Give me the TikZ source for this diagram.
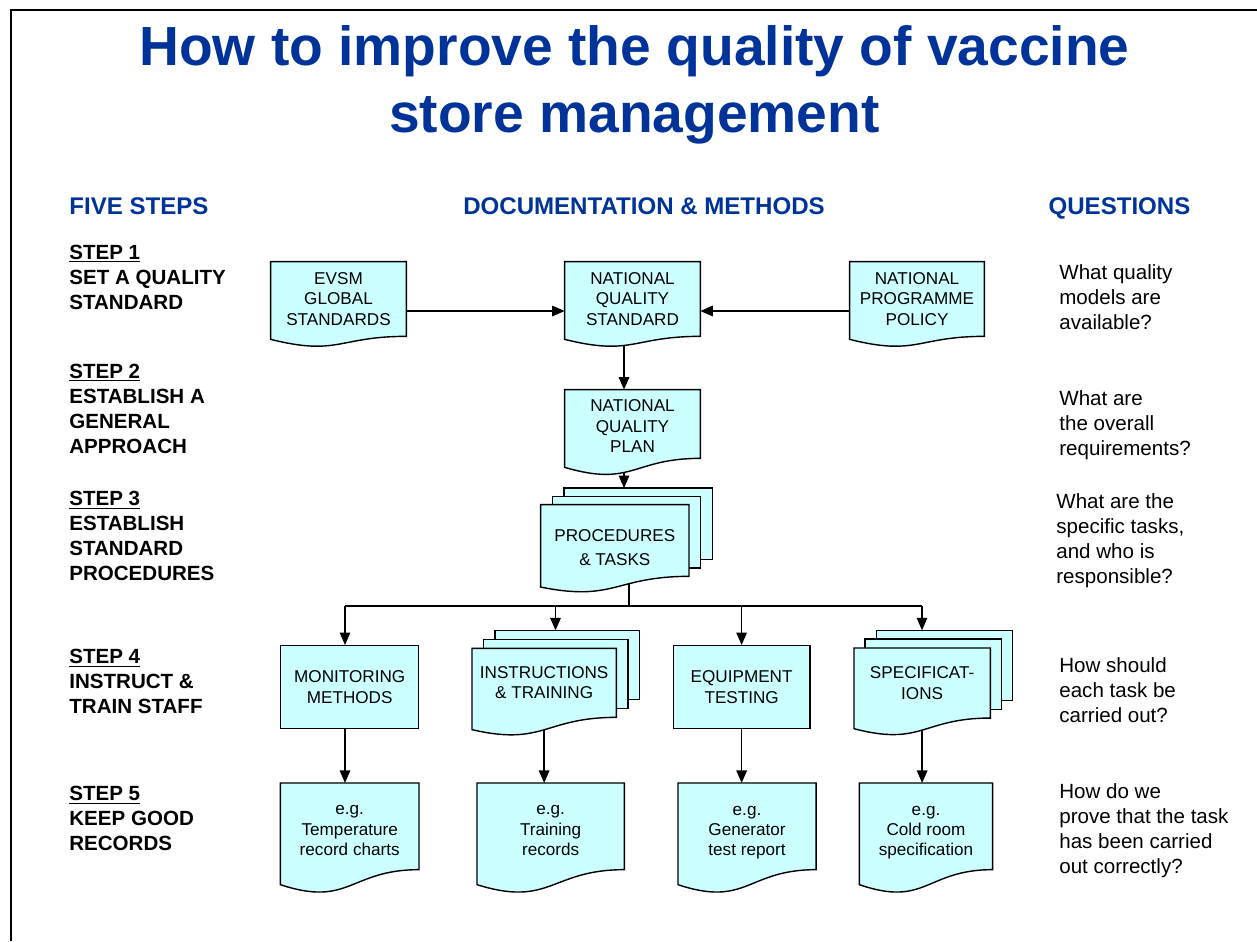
\documentclass[tikz,border=0pt]{standalone}
\usepackage{fontspec}
\setmainfont{Liberation Sans}
\usetikzlibrary{arrows.meta,calc}

\definecolor{titleblue}{RGB}{0,51,153}
\definecolor{boxcyan}{RGB}{204,255,255}

\pgfdeclarelayer{wires}
\pgfdeclarelayer{shapes}
\pgfsetlayers{wires,shapes,main}

\tikzset{
  boxline/.style={draw=black, fill=boxcyan, line width=0.8pt},
  boxtext/.style={font=\fontsize{9.75}{11.6}\selectfont, align=center, inner sep=0pt},
  plainbox/.style={boxtext, boxline},
  wire/.style={line width=0.8pt},
  arr/.style={wire, -{Triangle[length=0.25cm,width=0.21cm]}},
  headtext/.style={font=\fontsize{13.7}{16}\selectfont\bfseries, text=titleblue, inner sep=0pt, anchor=base},
  steptext/.style={font=\fontsize{11.7}{14.2}\selectfont\bfseries, align=left, anchor=west, inner sep=0pt},
  asktext/.style={font=\fontsize{11.7}{14.2}\selectfont, align=left, anchor=west, inner sep=0pt},
}

% invisible height at the start of a first line, pushes a text block down
\newcommand{\padtop}[1]{\rule{0pt}{#1}}

% document sheet round a text node: flat top, wavy bottom
% #1 node, #2 drop of the left corner, #3 depth of the wave
\newcommand{\docoutline}[3]{%
  \draw[boxline] (#1.north west) -- (#1.north east) -- (#1.south east)
    .. controls (#1.south) and ($(#1.south)+(0,#2+#3)$) .. ($(#1.south west)+(0,#2)$) -- cycle;}

% pile of three sheets, #4/#5 the offset of each sheet behind
\newcommand{\stackoutline}[5]{%
  \draw[boxline] ($(#1.north west)+(2*#4,2*#5)$) rectangle ($(#1.south east)+(2*#4,2*#5)$);
  \draw[boxline] ($(#1.north west)+(#4,#5)$) rectangle ($(#1.south east)+(#4,#5)$);
  \coordinate (#1-back) at ($(#1.north)+(2*#4,2*#5)$);
  \docoutline{#1}{#2}{#3}}

\begin{document}
\begin{tikzpicture}[x=0.02cm, y=-0.02cm]
  \useasboundingbox (0,0) rectangle (1257,941);
  \draw[line width=1.1pt] (11,941) -- (11,10) -- (1257,10);

  % title
  \node[font=\fontsize{31.4}{38}\selectfont\bfseries, text=titleblue, align=center, inner sep=0pt]
    (title) at (634.5,85) {How to improve the quality of vaccine\\store management};

  % column heads
  \node[headtext, anchor=base west] (headsteps) at (69,214.5) {FIVE STEPS};
  \node[headtext] (headdocs) at (644,214.5) {DOCUMENTATION \& METHODS};
  \node[headtext] (headask) at (1119.5,214.5) {QUESTIONS};

  % left column
  \node[steptext] (step1) at (69,277) {\underline{STEP 1}\\SET A QUALITY\\STANDARD};
  \node[steptext] (step2) at (69,408.5) {\underline{STEP 2}\\ESTABLISH A\\GENERAL\\APPROACH};
  \node[steptext] (step3) at (69,535.5) {\underline{STEP 3}\\ESTABLISH\\STANDARD\\PROCEDURES};
  \node[steptext] (step4) at (69,681.5) {\underline{STEP 4}\\INSTRUCT \&\\TRAIN STAFF};
  \node[steptext] (step5) at (69,818.5) {\underline{STEP 5}\\KEEP GOOD\\RECORDS};

  % right column
  \node[asktext] (ask1) at (1059,297) {What quality\\models are\\available?};
  \node[asktext] (ask2) at (1059,425) {What are\\the overall\\requirements?};
  \node[asktext] (ask3) at (1056,540.5) {What are the\\specific tasks,\\and who is\\responsible?};
  \node[asktext] (ask4) at (1059,690) {How should\\each task be\\carried out?};
  \node[asktext] (ask5) at (1059,830.5) {How do we\\prove that the task\\has been carried\\out correctly?};

  % documents and methods
  \node[boxtext, minimum width=2.7cm, minimum height=1.48cm] (evsm) at (338.5,299) {EVSM\\GLOBAL\\STANDARDS};
  \node[boxtext, minimum width=2.7cm, minimum height=1.48cm] (nqs) at (632.5,299) {NATIONAL\\QUALITY\\STANDARD};
  \node[boxtext, minimum width=2.68cm, minimum height=1.48cm] (policy) at (917,299) {NATIONAL\\PROGRAMME\\POLICY};
  \node[boxtext, minimum width=2.7cm, minimum height=1.36cm] (nqp) at (632.5,424) {\padtop{0.33cm}NATIONAL\\QUALITY\\PLAN};
  \node[boxtext, font=\fontsize{9.75}{13.6}\selectfont, minimum width=2.954cm, minimum height=1.42cm] (proc) at (614.85,540.5) {\padtop{0.53cm}PROCEDURES\\\& TASKS};

  \node[plainbox, minimum width=2.76cm, minimum height=1.66cm] (mon) at (349.7,687.2) {MONITORING\\METHODS};
  \node[boxtext, minimum width=2.874cm, minimum height=1.366cm] (instr) at (544.15,682.85) {INSTRUCTIONS\\\& TRAINING};
  \node[plainbox, minimum width=2.734cm, minimum height=1.66cm] (equip) at (741.65,687.2) {EQUIPMENT\\TESTING};
  \node[boxtext, minimum width=2.714cm, minimum height=1.388cm] (spec) at (922.15,683) {SPECIFICAT-\\IONS};

  \node[boxtext, minimum width=2.76cm, minimum height=1.72cm] (rec1) at (349.7,826.3) {\padtop{0.36cm}e.g.\\Temperature\\record charts};
  \node[boxtext, minimum width=2.934cm, minimum height=1.72cm] (rec2) at (550.65,826.3) {\padtop{0.36cm}e.g.\\Training\\records};
  \node[boxtext, minimum width=2.748cm, minimum height=1.72cm] (rec3) at (747,826.3) {\padtop{0.44cm}e.g.\\Generator\\test report};
  \node[boxtext, minimum width=2.652cm, minimum height=1.72cm] (rec4) at (926,826.3) {\padtop{0.44cm}e.g.\\Cold room\\specification};

  \begin{pgfonlayer}{shapes}
    \docoutline{evsm}{3}{17}
    \docoutline{nqs}{3}{17}
    \docoutline{policy}{3}{17}
    \docoutline{nqp}{9}{20}
    \stackoutline{proc}{10.7}{15}{11.7}{-8.3}
    \stackoutline{instr}{12.3}{16.7}{11.5}{-9}
    \stackoutline{spec}{10.6}{18}{11.2}{-8.8}
    \foreach \r in {rec1,rec2,rec3,rec4}
      \docoutline{\r}{15}{23};
  \end{pgfonlayer}

  % connectors
  \coordinate (bus) at (629,606);
  \coordinate (drop1) at (345,606);
  \coordinate (drop2) at (555.5,606);
  \coordinate (drop3) at (741.6,606);
  \coordinate (drop4) at (922,606);
  \begin{pgfonlayer}{wires}
    \draw[arr] ([yshift=-0.24cm]evsm.east) -- ([yshift=-0.24cm]nqs.west);
    \draw[arr] ([yshift=-0.24cm]policy.west) -- ([yshift=-0.24cm]nqs.east);
    \draw[arr] ([xshift=-0.17cm]nqs.south) -- ([xshift=-0.17cm]nqp.north);
    \draw[arr] ([xshift=-0.17cm]nqp.south) -- ([xshift=-0.17cm]nqp.south |- proc-back);
    \draw[wire] (proc.south -| bus) -- (bus);
    \draw[wire] (drop1) -- (drop4);
    \draw[arr] (drop1) -- (drop1 |- mon.north);
    \draw[arr] (drop2) -- (drop2 |- instr-back);
    \draw[arr] (drop3) -- (drop3 |- equip.north);
    \draw[arr] (drop4) -- (drop4 |- spec-back);
    \draw[arr] (drop1 |- mon.south) -- (drop1 |- rec1.north);
    \draw[arr] (instr.south) -- (instr.south |- rec2.north);
    \draw[arr] (equip.south) -- (equip.south |- rec3.north);
    \draw[arr] (spec.south) -- (spec.south |- rec4.north);
  \end{pgfonlayer}
\end{tikzpicture}
\end{document}
